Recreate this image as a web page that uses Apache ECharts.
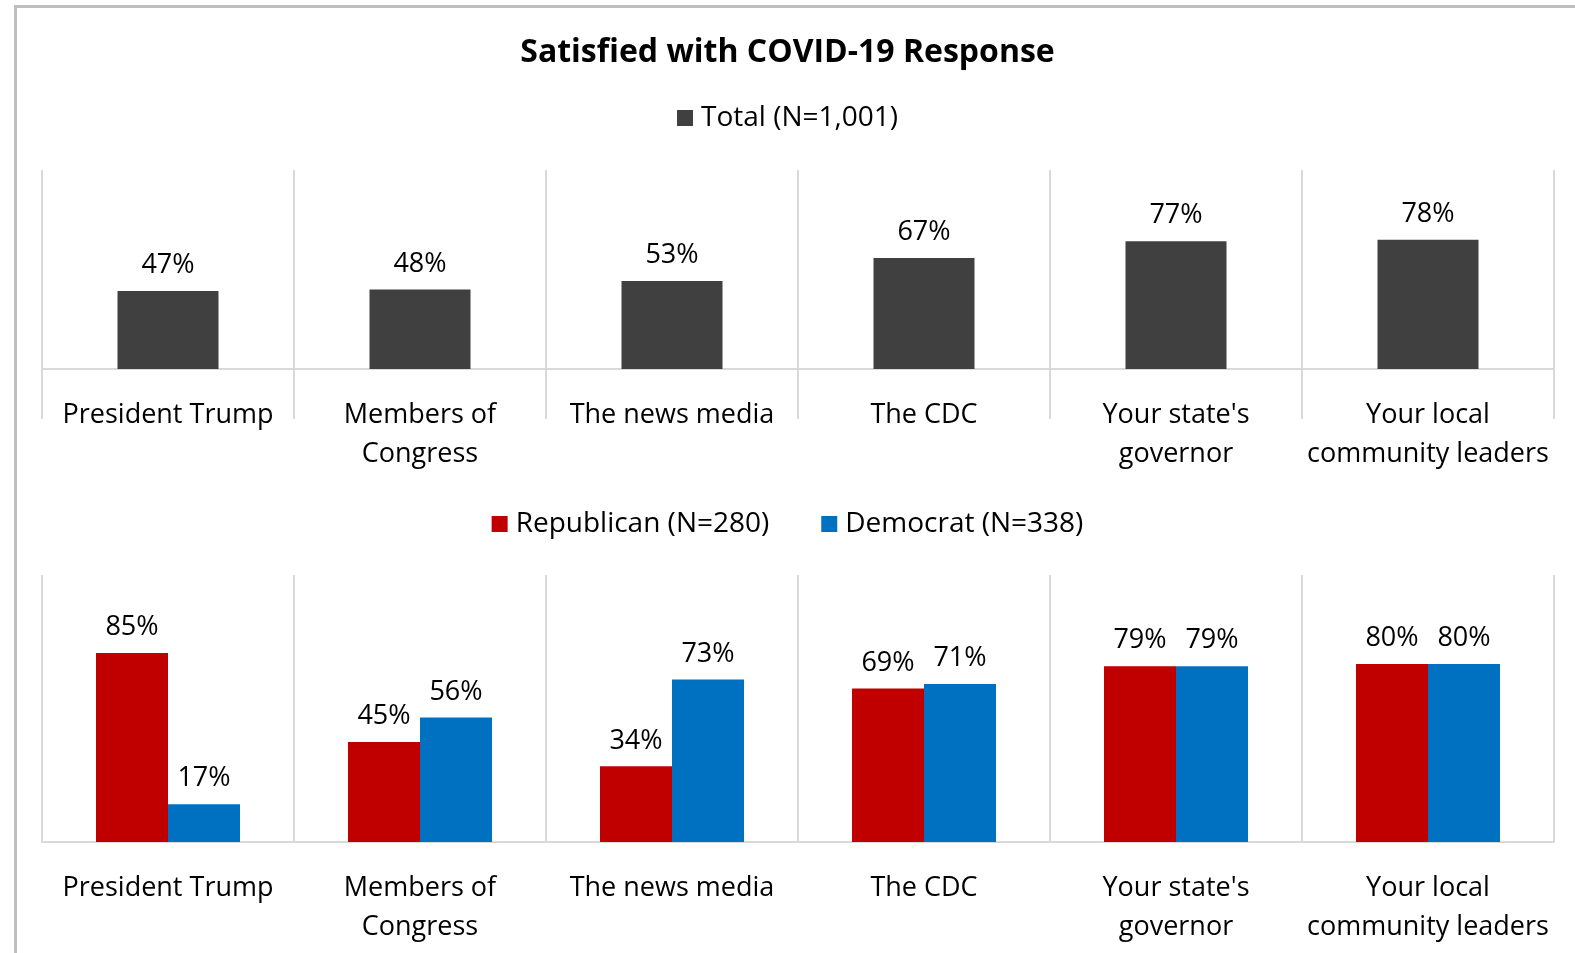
<!DOCTYPE html>
<html><head><meta charset="utf-8">
<script src="https://cdn.jsdelivr.net/npm/echarts@6/dist/echarts.min.js"></script>
<style>
html,body{margin:0;padding:0;background:#fff;}
#frame{position:absolute;left:14px;top:5px;width:1580px;height:960px;border-left:3px solid #bfbfbf;border-top:3px solid #bfbfbf;}
#main{position:absolute;left:0;top:0;width:1575px;height:953px;}
</style></head>
<body>
<div id="frame"></div>
<div id="main"></div>
<script>
const categories = ['President Trump', 'Members of\nCongress', 'The news media', 'The CDC', "Your state's\ngovernor", 'Your local\ncommunity leaders'];
const totalName = 'Total (N=1,001)';
const totalValues = [47, 48, 53, 67, 77, 78];
const repName = 'Republican (N=280)';
const repValues = [85, 45, 34, 69, 79, 80];
const demName = 'Democrat (N=338)';
const demValues = [17, 56, 73, 71, 79, 80];
const titleText = 'Satisfied with COVID-19 Response';

const FONT = 'Open Sans';
const gridColor = '#d9d9d9';
const chart = echarts.init(document.getElementById('main'));
const labelCfg = {show: true, position: 'top', distance: 12, formatter: '{c}%', color: '#000', fontFamily: FONT, fontSize: 27};
function xAxis(idx, ticks) {
  return {
    type: 'category', gridIndex: idx, data: categories, boundaryGap: true,
    axisLine: {show: true, lineStyle: {color: gridColor, width: 2}},
    axisTick: {show: ticks, length: 50, interval: 0, lineStyle: {color: gridColor, width: 2}},
    splitLine: {show: true, interval: 0, lineStyle: {color: gridColor, width: 2}},
    axisLabel: {interval: 0, color: '#000', fontFamily: FONT, fontSize: 27, lineHeight: 39, margin: 27}
  };
}
function yAxis(idx) {
  return {type: 'value', gridIndex: idx, min: 0, max: 120, show: false, splitLine: {show: false}};
}
const legendText = {fontFamily: FONT, fontSize: 28, color: '#000', padding: [0, 0, 0, 3]};
chart.setOption({
  animation: false,
  backgroundColor: 'transparent',
  title: {text: titleText, left: 'center', top: 32, textStyle: {fontFamily: FONT, fontSize: 32, fontWeight: 'bold', color: '#000'}},
  legend: [
    {data: [totalName], top: 99, left: 'center', itemWidth: 16, itemHeight: 16, icon: 'rect', textStyle: legendText},
    {data: [repName, demName], top: 505, left: 'center', itemWidth: 16, itemHeight: 16, itemGap: 52, icon: 'rect', textStyle: legendText}
  ],
  grid: [
    {left: 42, width: 1512, top: 170, height: 199},
    {left: 42, width: 1512, top: 575, height: 267}
  ],
  xAxis: [xAxis(0, true), xAxis(1, false)],
  yAxis: [yAxis(0), yAxis(1)],
  series: [
    {name: totalName, type: 'bar', xAxisIndex: 0, yAxisIndex: 0, data: totalValues, barWidth: 101, itemStyle: {color: '#404040'}, label: labelCfg},
    {name: repName, type: 'bar', xAxisIndex: 1, yAxisIndex: 1, data: repValues, barWidth: 72, barGap: '0%', itemStyle: {color: '#c00000'}, label: labelCfg},
    {name: demName, type: 'bar', xAxisIndex: 1, yAxisIndex: 1, data: demValues, barWidth: 72, barGap: '0%', itemStyle: {color: '#0070c0'}, label: labelCfg}
  ]
});
</script>
</body></html>
